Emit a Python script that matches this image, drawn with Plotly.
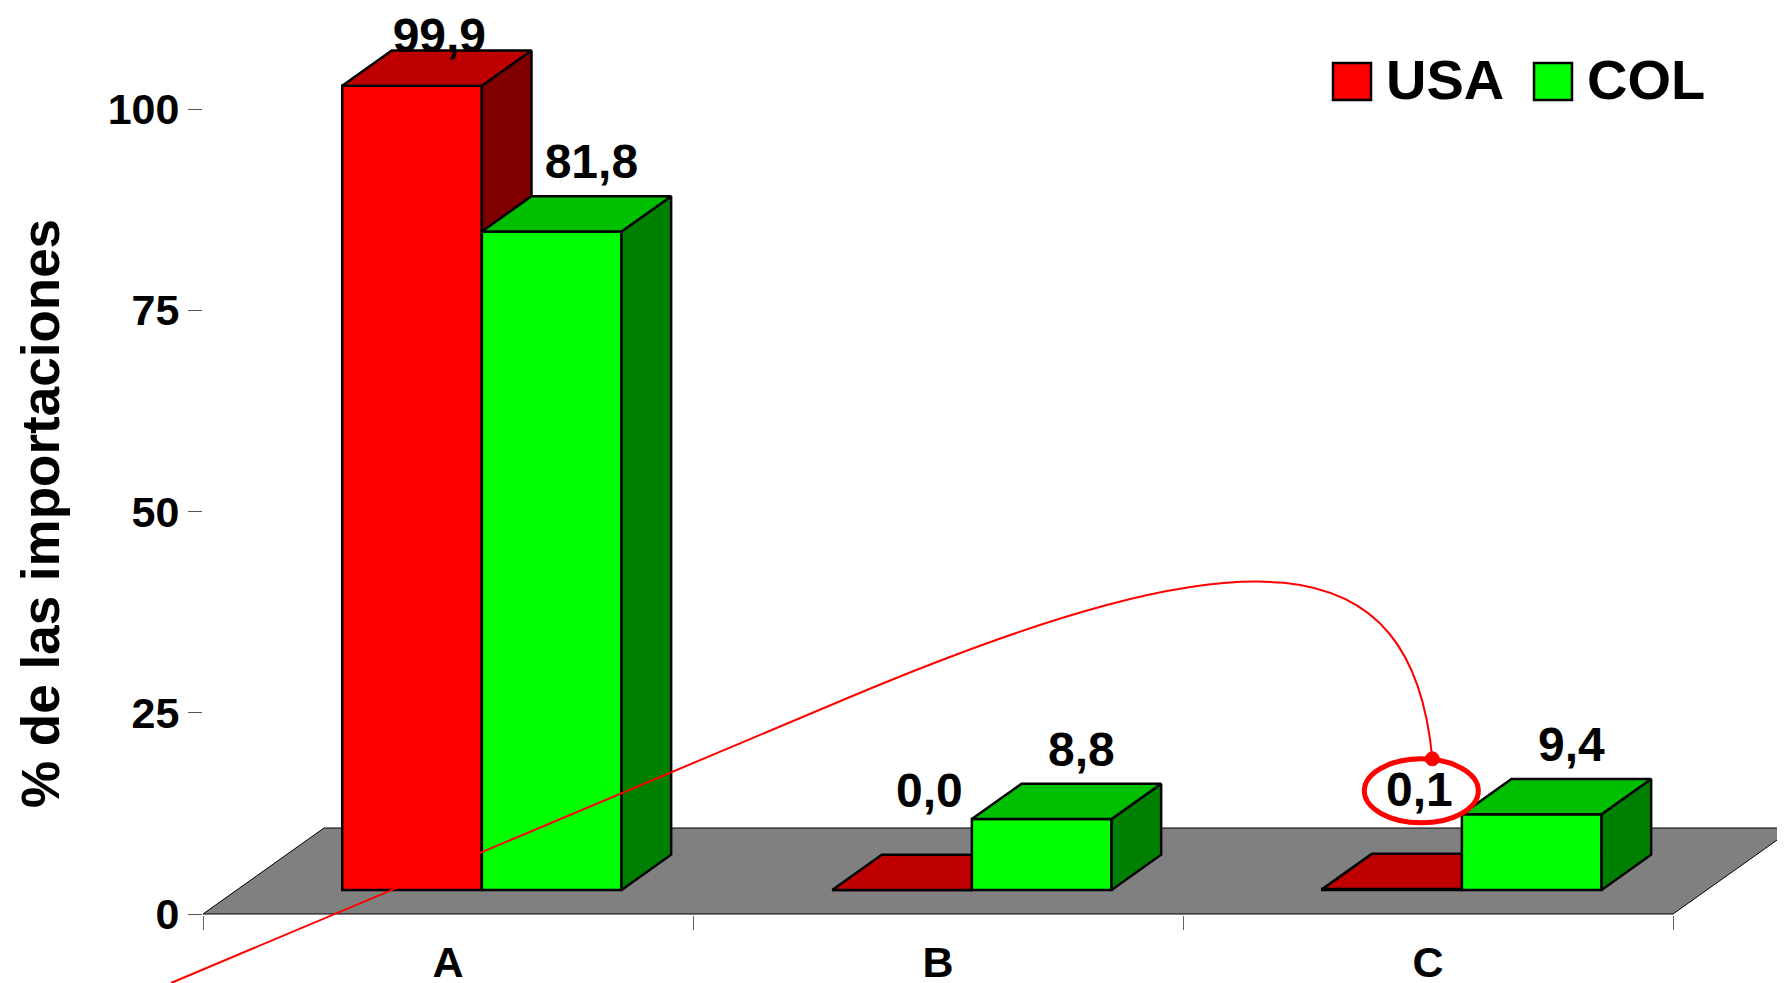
import plotly.graph_objects as go

# ---------------- data ----------------
categories = ["A", "B", "C"]
series_names = ["USA", "COL"]
usa_values = [99.9, 0.0, 0.1]
col_values = [81.8, 8.8, 9.4]
y_ticks = [0, 25, 50, 75, 100]
y_title = "% de las importaciones"

# ---------------- geometry / style (screen pixels) ----------------
W, H = 1785, 983
PAGE = 8                      # default body margin of the html page
AX_L, AX_R = 203, 1673        # screen x of the category range edges
AX_Y0, AX_Y100 = 914, 109     # screen y of value 0 and value 100
n = len(categories)
px_per_cat = (AX_R - AX_L) / n
px_per_unit = (AX_Y0 - AX_Y100) / 100.0
x_at0 = AX_L + 0.5 * px_per_cat


def px2x(px):
    return (px - x_at0) / px_per_cat


def py2y(py):
    return (AX_Y0 - py) / px_per_unit


def y2py(y):
    return AX_Y0 - y * px_per_unit


def x2px(x):
    return x_at0 + x * px_per_cat


def pxp(px):
    return (px - PAGE) / W


def pyp(py):
    return 1 - (py - PAGE) / H


FLOOR_DX = 121 / px_per_cat
FLOOR_DY = 86 / px_per_unit
F0, FD = 0.28, 0.41          # bar front depth fraction, bar depth fraction
BAR_W = 0.285
base = F0 * FLOOR_DY
x_shift = F0 * FLOOR_DX
ddx, ddy = FD * FLOOR_DX, FD * FLOOR_DY

FONT = "Liberation Sans, Arial, sans-serif"
colors = {
    "USA": {"front": "#FF0000", "top": "#BF0000", "side": "#800000"},
    "COL": {"front": "#00FF00", "top": "#00BF00", "side": "#008000"},
}
label_lift = {"USA": 60, "COL": 30}
label_dx = {"USA": 0.55, "COL": 0.8}
LABEL_TOP = 40
EDGE = dict(color="black", width=2.5)

series_values = {"USA": usa_values, "COL": col_values}

fig = go.Figure()

# dummy trace so the visible axes subplot exists
fig.add_trace(go.Scatter(x=[None], y=[None], xaxis="x", yaxis="y",
                         showlegend=False, hoverinfo="skip"))

# floor
fx = [-0.5, n - 0.5, n - 0.5 + FLOOR_DX, -0.5 + FLOOR_DX, -0.5]
fy = [0, 0, FLOOR_DY, FLOOR_DY, 0]
fig.add_trace(go.Scatter(x=fx, y=fy, mode="lines", fill="toself",
                         fillcolor="#808080", line=dict(color="black", width=1),
                         xaxis="x2", yaxis="y2", zorder=0,
                         showlegend=False, hoverinfo="skip"))

label_x, label_y, label_t = [], [], []
for k, name in enumerate(series_names):
    vals = series_values[name]
    c = colors[name]
    z = 2 * k + 1
    centers = [i + (k - 0.5) * BAR_W + x_shift for i in range(n)]
    fig.add_trace(go.Bar(x=centers, y=vals, base=base, width=BAR_W, name=name,
                         marker=dict(color=c["front"], line=EDGE),
                         xaxis="x2", yaxis="y2", zorder=z, showlegend=False))
    for i, v in enumerate(vals):
        xl = centers[i] - BAR_W / 2
        xr = centers[i] + BAR_W / 2
        top = base + v
        # side face
        fig.add_trace(go.Scatter(
            x=[xr, xr + ddx, xr + ddx, xr, xr],
            y=[base, base + ddy, top + ddy, top, base],
            mode="lines", fill="toself", fillcolor=c["side"], line=EDGE,
            xaxis="x2", yaxis="y2", zorder=z, showlegend=False, hoverinfo="skip"))
        # top face
        fig.add_trace(go.Scatter(
            x=[xl, xr, xr + ddx, xl + ddx, xl],
            y=[top, top, top + ddy, top + ddy, top],
            mode="lines", fill="toself", fillcolor=c["top"], line=EDGE,
            xaxis="x2", yaxis="y2", zorder=z, showlegend=False, hoverinfo="skip"))
        # label
        lpy = max(y2py(top + ddy) - label_lift[name], LABEL_TOP)
        label_x.append(centers[i] + label_dx[name] * ddx)
        label_y.append(py2y(lpy))
        label_t.append(f"{v:.1f}".replace(".", ","))

fig.add_trace(go.Scatter(x=label_x, y=label_y, text=label_t, mode="text",
                         textposition="middle center",
                         textfont=dict(family=FONT, size=48, color="black", weight="bold"),
                         xaxis="x2", yaxis="y2", zorder=10, cliponaxis=False,
                         showlegend=False, hoverinfo="skip"))

# ---------------- highlight annotation (ellipse + curve) ----------------
hx, hy = label_x[2], label_y[2]   # USA / C label
hpx, hpy = x2px(hx) + 2, y2py(hy) - 3
RX, RY = 57, 32
shapes = []
shapes.append(dict(type="circle", xref="x2", yref="y2",
                   x0=px2x(hpx - RX), x1=px2x(hpx + RX),
                   y0=py2y(hpy + RY), y1=py2y(hpy - RY),
                   line=dict(color="#FF0000", width=5), layer="above"))
end_px, end_py = hpx + 11, hpy - RY
pts = [(171, 983), (850, 697), (1250, 529), (1412, 540), (end_px, end_py)]
d = [(px2x(a), py2y(b)) for a, b in pts]
path = (f"M {d[0][0]},{d[0][1]} L {d[1][0]},{d[1][1]} "
        f"C {d[2][0]},{d[2][1]} {d[3][0]},{d[3][1]} {d[4][0]},{d[4][1]}")
shapes.append(dict(type="path", xref="x2", yref="y2", path=path,
                   line=dict(color="#FF0000", width=2), layer="above"))
DR = 7
shapes.append(dict(type="circle", xref="x2", yref="y2",
                   x0=px2x(end_px - DR), x1=px2x(end_px + DR),
                   y0=py2y(end_py + DR), y1=py2y(end_py - DR),
                   fillcolor="#FF0000", line=dict(color="#FF0000", width=1),
                   layer="above"))

# ---------------- custom legend ----------------
annotations = []
leg = [("USA", 1333, 1387), ("COL", 1534, 1588)]
for name, sx, tx in leg:
    shapes.append(dict(type="rect", xref="paper", yref="paper",
                       x0=pxp(sx), x1=pxp(sx + 38),
                       y0=pyp(100), y1=pyp(63),
                       fillcolor=colors[name]["front"],
                       line=dict(color="black", width=2.5)))
    annotations.append(dict(x=pxp(tx - 3), y=pyp(80), xref="paper", yref="paper",
                            text=name, showarrow=False, xanchor="left", yanchor="middle",
                            font=dict(family=FONT, size=56, color="black", weight="bold")))

annotations.append(dict(x=pxp(40), y=pyp(514), xref="paper", yref="paper",
                        text=y_title, showarrow=False, textangle=-90,
                        xanchor="center", yanchor="middle",
                        font=dict(family=FONT, size=53, color="black", weight="bold")))

fig.update_layout(
    width=W, height=H,
    margin=dict(l=0, r=0, t=0, b=0),
    paper_bgcolor="white", plot_bgcolor="rgba(0,0,0,0)",
    barmode="overlay", showlegend=False,
    shapes=shapes, annotations=annotations,
    xaxis=dict(domain=[pxp(AX_L), pxp(AX_R)], range=[-0.5, n - 0.5], anchor="y",
               showgrid=False, zeroline=False, showline=True,
               linecolor="black", linewidth=2,
               tickmode="array", tickvals=list(range(n)), ticktext=categories,
               ticks="", ticklabelstandoff=9,
               tickfont=dict(family=FONT, size=43, color="black", weight="bold"),
               minor=dict(tickmode="array", tickvals=[i - 0.5 for i in range(n + 1)],
                          ticks="outside", ticklen=14, tickcolor="#666", tickwidth=1,
                          showgrid=False),
               fixedrange=True, automargin=False),
    yaxis=dict(domain=[pyp(AX_Y0), pyp(AX_Y100)], range=[0, 100], anchor="x",
               showgrid=False, zeroline=False, showline=True,
               linecolor="#333", linewidth=1,
               tickmode="array", tickvals=y_ticks, ticks="outside", ticklen=14,
               tickcolor="#555", tickwidth=1, ticklabelstandoff=0,
               tickfont=dict(family=FONT, size=43, color="black", weight="bold"),
               fixedrange=True, automargin=False),
    xaxis2=dict(domain=[0, 1], range=[px2x(PAGE), px2x(W + PAGE)], anchor="y2",
                visible=False, fixedrange=True),
    yaxis2=dict(domain=[0, 1], range=[py2y(H + PAGE), py2y(PAGE)], anchor="x2",
                visible=False, fixedrange=True),
)

fig.write_html("out.html")
